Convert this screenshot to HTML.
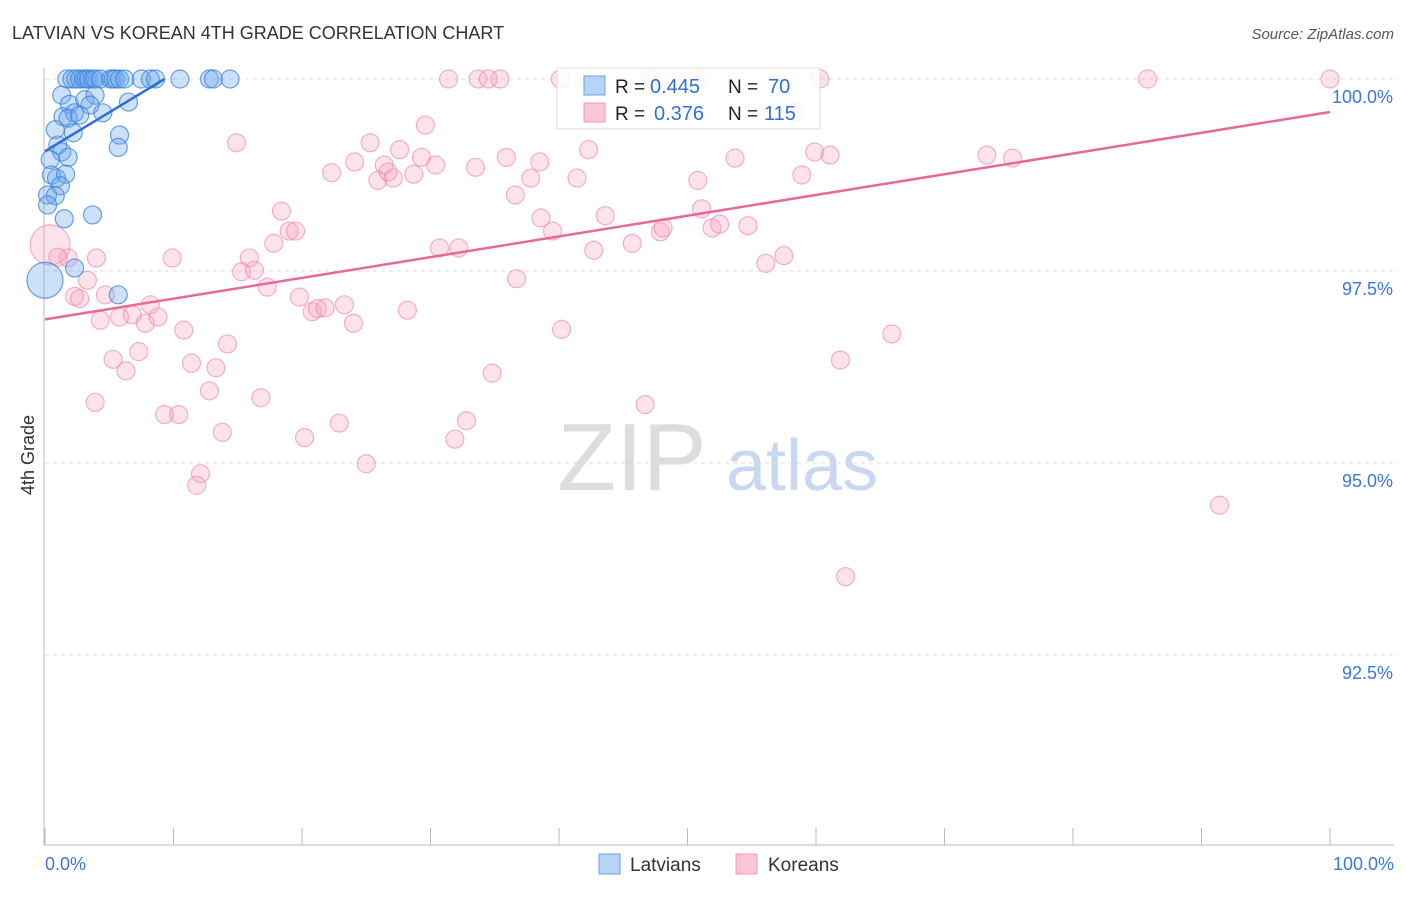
<!DOCTYPE html>
<html><head><meta charset="utf-8">
<style>
body{margin:0;background:#fff;font-family:"Liberation Sans",sans-serif;}
svg text{font-family:"Liberation Sans",sans-serif;}
</style></head>
<body>
<svg id="chart" width="1406" height="892" viewBox="0 0 1406 892">
<text x="12" y="39" font-size="18" fill="#333">LATVIAN VS KOREAN 4TH GRADE CORRELATION CHART</text>
<text x="1394" y="39" font-size="15" fill="#555" font-style="italic" text-anchor="end">Source: ZipAtlas.com</text>
<text x="34" y="455" font-size="18" fill="#333" text-anchor="middle" transform="rotate(-90 34 455)">4th Grade</text>
<g>
<text x="632" y="490" font-size="96" fill="#ddd" text-anchor="middle" font-family="Liberation Serif,serif">ZIP</text>
<text x="802" y="490" font-size="72" fill="#c8d8f0" text-anchor="middle">atlas</text>
</g>
<g id="grid"></g>
<g id="pts"></g>
<g id="trend"></g>
<g>
<rect x="557" y="68" width="263" height="61" fill="#fff" fill-opacity="0.85" stroke="#ddd"/>
<rect x="584" y="76" width="21" height="19" fill="#b7d3f5" stroke="#6aa1e6"/>
<rect x="584" y="103" width="21" height="19" fill="#fbc6d6" stroke="#f09ab5"/>
<text x="615" y="93" font-size="19" fill="#222">R =</text>
<text x="650" y="93" font-size="20" fill="#2f6fd6">0.445</text>
<text x="728" y="93" font-size="19" fill="#222">N =</text>
<text x="768" y="93" font-size="20" fill="#2f6fd6">70</text>
<text x="615" y="120" font-size="19" fill="#222">R =</text>
<text x="654" y="120" font-size="20" fill="#2f6fd6">0.376</text>
<text x="728" y="120" font-size="19" fill="#222">N =</text>
<text x="764" y="120" font-size="20" fill="#2f6fd6">115</text>
</g>
<g>
<rect x="599" y="854" width="21" height="20" fill="#b7d3f5" stroke="#6aa1e6"/>
<text x="630" y="871" font-size="19" fill="#333">Latvians</text>
<rect x="736" y="854" width="21" height="20" fill="#fbc6d6" stroke="#f09ab5"/>
<text x="768" y="871" font-size="19" fill="#333">Koreans</text>
</g>
</svg>
<script>
const yTicks=[100,97.5,95,92.5];
const yTickLabels=["100.0%","97.5%","95.0%","92.5%"];
const xTickVals=[0,10,20,30,40,50,60,70,80,90,100];
const xEndLabels=["0.0%","100.0%"];
const blueX=[1.7,2.1,2.4,2.7,3.0,3.2,3.4,3.7,3.9,4.3,5.1,5.3,5.5,5.8,6.2,7.5,8.2,8.6,10.5,12.8,13.1,14.4,
1.3,1.9,1.4,2.3,1.8,3.1,3.9,3.5,4.5,6.5,0.8,2.2,1.0,1.3,1.8,5.8,5.7,0.4,0.5,0.9,1.6,1.2,0.2,0.8,0.2,1.5,3.7,2.3,5.7,2.7,0.0];
const blueY=[100,100,100,100,100,100,100,100,100,100,100,100,100,100,100,100,100,100,100,100,100,100,
99.79,99.67,99.51,99.56,99.49,99.73,99.79,99.66,99.56,99.70,99.34,99.30,99.14,99.05,98.98,99.27,99.11,98.95,98.75,98.71,98.76,98.61,98.49,98.48,98.36,98.18,98.23,97.54,97.19,99.53,97.38];
const pinkX=[85.8,100,31.4,33.7,34.5,35.4,40.1,47.1,51.0,60.3,58.4,14.9,25.3,29.6,27.6,24.1,26.4,29.3,30.4,33.5,35.9,38.5,42.3,53.7,59.9,61.1,73.3,75.3,
22.3,25.9,26.7,27.1,28.7,37.8,41.4,50.8,58.9,36.6,18.4,38.6,43.6,51.1,19.0,19.5,17.8,30.7,32.2,39.5,42.7,45.7,47.9,48.1,51.9,52.5,54.7,57.5,56.1,
9.9,15.9,15.3,16.3,4.0,3.3,1.8,0.4,1.0,17.3,36.7,2.3,2.7,4.7,19.8,8.2,23.3,20.8,21.2,21.8,28.2,4.3,5.8,6.8,7.8,8.8,24.0,10.8,40.2,65.9,
7.3,5.3,14.2,11.4,13.3,6.3,61.9,34.8,3.9,12.8,16.8,9.3,10.4,13.8,22.9,32.8,46.7,20.2,31.9,25.0,12.1,11.8,91.4,62.3];
const pinkY=[100,100,100,100,100,100,100,100,100,100,99.57,99.17,99.17,99.40,99.08,98.92,98.88,98.98,98.88,98.85,98.98,98.92,99.08,98.97,99.05,99.01,99.01,98.97,
98.78,98.68,98.79,98.71,98.76,98.71,98.71,98.68,98.75,98.49,98.28,98.19,98.22,98.31,98.02,98.02,97.86,97.80,97.80,98.02,97.77,97.86,98.01,98.06,98.06,98.11,98.09,97.70,97.60,
97.67,97.67,97.49,97.51,97.67,97.38,97.67,97.84,97.68,97.29,97.40,97.17,97.14,97.19,97.16,97.06,97.06,96.97,97.01,97.02,96.99,96.86,96.90,96.93,96.82,96.90,96.82,96.73,96.74,96.68,
96.45,96.35,96.55,96.30,96.24,96.20,96.34,96.17,95.79,95.94,95.85,95.63,95.63,95.40,95.52,95.55,95.76,95.33,95.31,94.99,94.86,94.71,94.45,93.52];
const blueTrendX=[0,9.3];
const blueTrendY=[99.06,100.0];
const pinkTrendX=[0,100];
const pinkTrendY=[96.87,99.57];
const NS="http://www.w3.org/2000/svg";
const X=v=>45+v*12.85;
const Y=v=>79+(100-v)*76.8;
function mk(tag,attrs,parent){const e=document.createElementNS(NS,tag);for(const k in attrs)e.setAttribute(k,attrs[k]);parent.appendChild(e);return e;}
const grid=document.getElementById('grid');
yTicks.forEach((t,i)=>{
  const l=mk('line',{x1:45,x2:1394,y1:Y(t),y2:Y(t),stroke:'#ddd','stroke-dasharray':'4,4'},grid);
  
  
  const tx=mk('text',{x:1393,y:Y(t)+24,'font-size':18,fill:'#3b78d8','text-anchor':'end'},grid);
  tx.textContent=yTickLabels[i];
  
  
});
const ax=mk('line',{x1:44,x2:1394,y1:845,y2:845,stroke:'#bbb'},grid);


const ay=mk('line',{x1:44,x2:44,y1:68,y2:845,stroke:'#bbb'},grid);


xTickVals.forEach(t=>{
  const l=mk('line',{x1:X(t),x2:X(t),y1:828,y2:845,stroke:'#bbb'},grid);
  
  
});
[[0,'start',45],[100,'end',1394]].forEach((d,i)=>{
  const tx=mk('text',{x:d[2],y:870,'font-size':18,fill:'#3b78d8','text-anchor':d[1]},grid);
  tx.textContent=xEndLabels[i];
  
  
});
const pts=document.getElementById('pts');
pinkX.forEach((x,i)=>{
  const big=(x<1&&pinkY[i]>97.8);
  const c=mk('circle',{cx:X(x),cy:Y(pinkY[i]),r:big?20:9,fill:'rgba(246,160,188,0.3)',stroke:'rgba(236,130,165,0.6)','stroke-width':1.2},pts);
  
  
});
blueX.forEach((x,i)=>{
  const big=(x===0);
  const c=mk('circle',{cx:X(x),cy:Y(blueY[i]),r:big?18:9,fill:'rgba(110,165,235,0.35)',stroke:'rgba(60,130,220,0.75)','stroke-width':1.2},pts);
  
  
});
const tr=document.getElementById('trend');
const bl=mk('line',{x1:X(blueTrendX[0]),y1:Y(blueTrendY[0]),x2:X(blueTrendX[1]),y2:Y(blueTrendY[1]),stroke:'#2b6fd6','stroke-width':2.5},tr);


const pl=mk('line',{x1:X(pinkTrendX[0]),y1:Y(pinkTrendY[0]),x2:X(pinkTrendX[1]),y2:Y(pinkTrendY[1]),stroke:'#e8689a','stroke-width':2.5},tr);


</script>
</body></html>
